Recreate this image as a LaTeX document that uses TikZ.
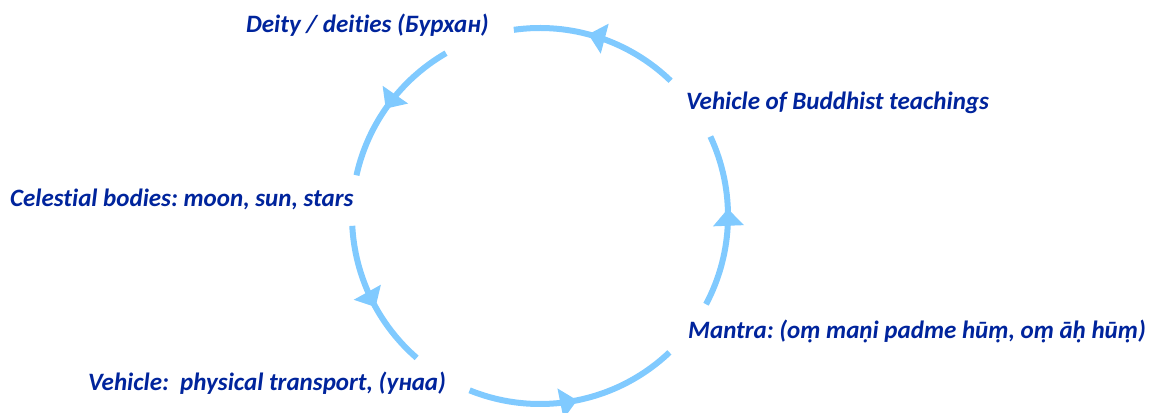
\documentclass[tikz,border=0pt]{standalone}
\usepackage{fontspec}
\setmainfont{Carlito}[Ligatures=NoCommon]
\usetikzlibrary{arrows.meta,decorations.markings}
\definecolor{ringblue}{RGB}{128,202,255}
\definecolor{txtblue}{RGB}{0,36,156}
\frenchspacing
\begin{document}
\begin{tikzpicture}[x=1pt,y=1pt,
  ring/.style={draw=ringblue,line width=6pt},
  lbl/.style={anchor=base west,inner sep=0pt,text=txtblue,font=\fontsize{25}{29}\selectfont\bfseries\itshape},
  tipat/.style={postaction={decorate},decoration={markings,mark=at position #1 with {\arrow{Triangle[length=17pt,width=30pt]}}}}]
\useasboundingbox (0,0) rectangle (1155,412);
\coordinate (c) at (540,196);
\def\R{188}
\draw[ring,tipat=0.56] ([shift={(46:\R)}]c) arc[start angle=46,end angle=98,radius=\R];
\draw[ring,tipat=0.53] ([shift={(120:\R)}]c) arc[start angle=120,end angle=167.5,radius=\R];
\draw[ring,tipat=0.565] ([shift={(183:\R)}]c) arc[start angle=183,end angle=229,radius=\R];
\draw[ring,tipat=0.51] ([shift={(248:\R)}]c) arc[start angle=248,end angle=313.5,radius=\R];
\draw[ring,tipat=0.57] ([shift={(-28:\R)}]c) arc[start angle=-28,end angle=25,radius=\R];
\node[lbl] (deity) at (246,379) {Deity / deities (Бурхан)};
\node[lbl] (teach) at (686,302) {Vehicle of Buddhist teachings};
\node[lbl] (cel) at (10,205) {Celestial bodies: moon, sun, stars};
\node[lbl] (mantra) at (688,74) {Mantra: (oṃ maṇi padme hūṃ, oṃ āḥ hūṃ)};
\node[lbl] (veh) at (88,22) {Vehicle:\ \ physical transport, (унаа)};
\end{tikzpicture}
\end{document}
